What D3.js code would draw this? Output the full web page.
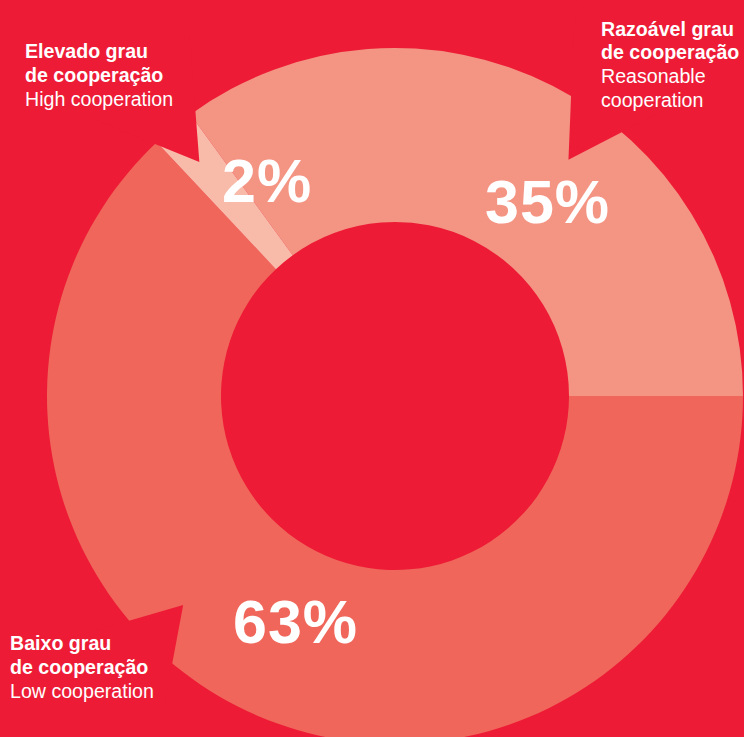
<!DOCTYPE html>
<html>
<head>
<meta charset="utf-8">
<script src="https://cdn.jsdelivr.net/npm/d3@7"></script>
<style>
  html, body { margin: 0; padding: 0; background: #ED1B36; }
  svg { display: block; }
  text { font-family: "Liberation Sans", Arial, Helvetica, sans-serif; fill: #ffffff; }
</style>
</head>
<body>
<script>
// Degree of cooperation — share of respondents
const keys = ["razoavel", "baixo", "elevado"];
const shares = [35, 63, 2];
const valueLabels = ["35%", "63%", "2%"];
const titlesPt = [["Razoável grau", "de cooperação"], ["Baixo grau", "de cooperação"], ["Elevado grau", "de cooperação"]];
const titlesEn = [["Reasonable", "cooperation"], ["Low cooperation"], ["High cooperation"]];

const W = 744, H = 737;
const cx = 395, cy = 396;
const rOuter = 348, rInner = 174;
const bg = "#ED1B36";

const svg = d3.select("body").append("svg")
  .attr("width", W).attr("height", H);

svg.append("rect").attr("width", W).attr("height", H).attr("fill", bg);

const color = d3.scaleOrdinal()
  .domain(keys)
  .range(["#F49483", "#F0665A", "#F8BBA9"]);

const rows = keys.map((k, i) => ({ key: k, value: shares[i], label: valueLabels[i] }));

const pie = d3.pie()
  .sort(null)
  .value(d => d.value)
  .startAngle(-0.2 * Math.PI)
  .endAngle(1.8 * Math.PI);

const arc = d3.arc().innerRadius(rInner).outerRadius(rOuter);

const g = svg.append("g").attr("transform", `translate(${cx},${cy})`);

g.selectAll("path.slice")
  .data(pie(rows))
  .join("path")
  .attr("class", "slice")
  .attr("d", arc)
  .attr("fill", d => color(d.data.key));

// Callout notches cut into the ring, pointing at each caption.
// tip: [angle in degrees clockwise from 12 o'clock, radius]; edges: angles where the sides cross the outer rim
const notches = {
  razoavel: { tip: [36.3, 293], edges: [30.4, 40.7] },
  elevado:  { tip: [-39.9, 305], edges: [-35.0, -43.6] },
  baixo:    { tip: [225.4, 297.5], edges: [229.8, 219.8] }
};
const polar = (deg, r) => {
  const a = deg * Math.PI / 180;
  return [r * Math.sin(a), -r * Math.cos(a)];
};
Object.values(notches).forEach(n => {
  const t = polar(n.tip[0], n.tip[1]);
  const pts = [t];
  n.edges.forEach(e => {
    const p = polar(e, rOuter);
    pts.push([t[0] + (p[0] - t[0]) * 2.5, t[1] + (p[1] - t[1]) * 2.5]);
  });
  g.append("path")
    .attr("d", d3.line()(pts) + "Z")
    .attr("fill", bg);
});

// Percentages
const valuePos = { razoavel: [485, 223], baixo: [233, 643], elevado: [222, 202] };
svg.selectAll("text.value")
  .data(rows)
  .join("text")
  .attr("class", "value")
  .attr("x", d => valuePos[d.key][0])
  .attr("y", d => valuePos[d.key][1])
  .attr("font-size", 61)
  .attr("font-weight", "bold")
  .attr("letter-spacing", 1)
  .text(d => d.label);

// Captions
const captionPos = { razoavel: [601, 35.5], baixo: [10, 650], elevado: [25, 58.3] };
const lineH = 23.8;
keys.forEach((k, i) => {
  const [x, y] = captionPos[k];
  const t = svg.append("text").attr("x", x).attr("y", y)
    .attr("font-size", 19.6);
  const lines = titlesPt[i].map(s => ({ s, bold: true }))
    .concat(titlesEn[i].map(s => ({ s, bold: false })));
  lines.forEach((l, j) => {
    t.append("tspan")
      .attr("x", x)
      .attr("y", y + j * lineH)
      .attr("font-weight", l.bold ? "bold" : "normal")
      .text(l.s);
  });
});
</script>
</body>
</html>
